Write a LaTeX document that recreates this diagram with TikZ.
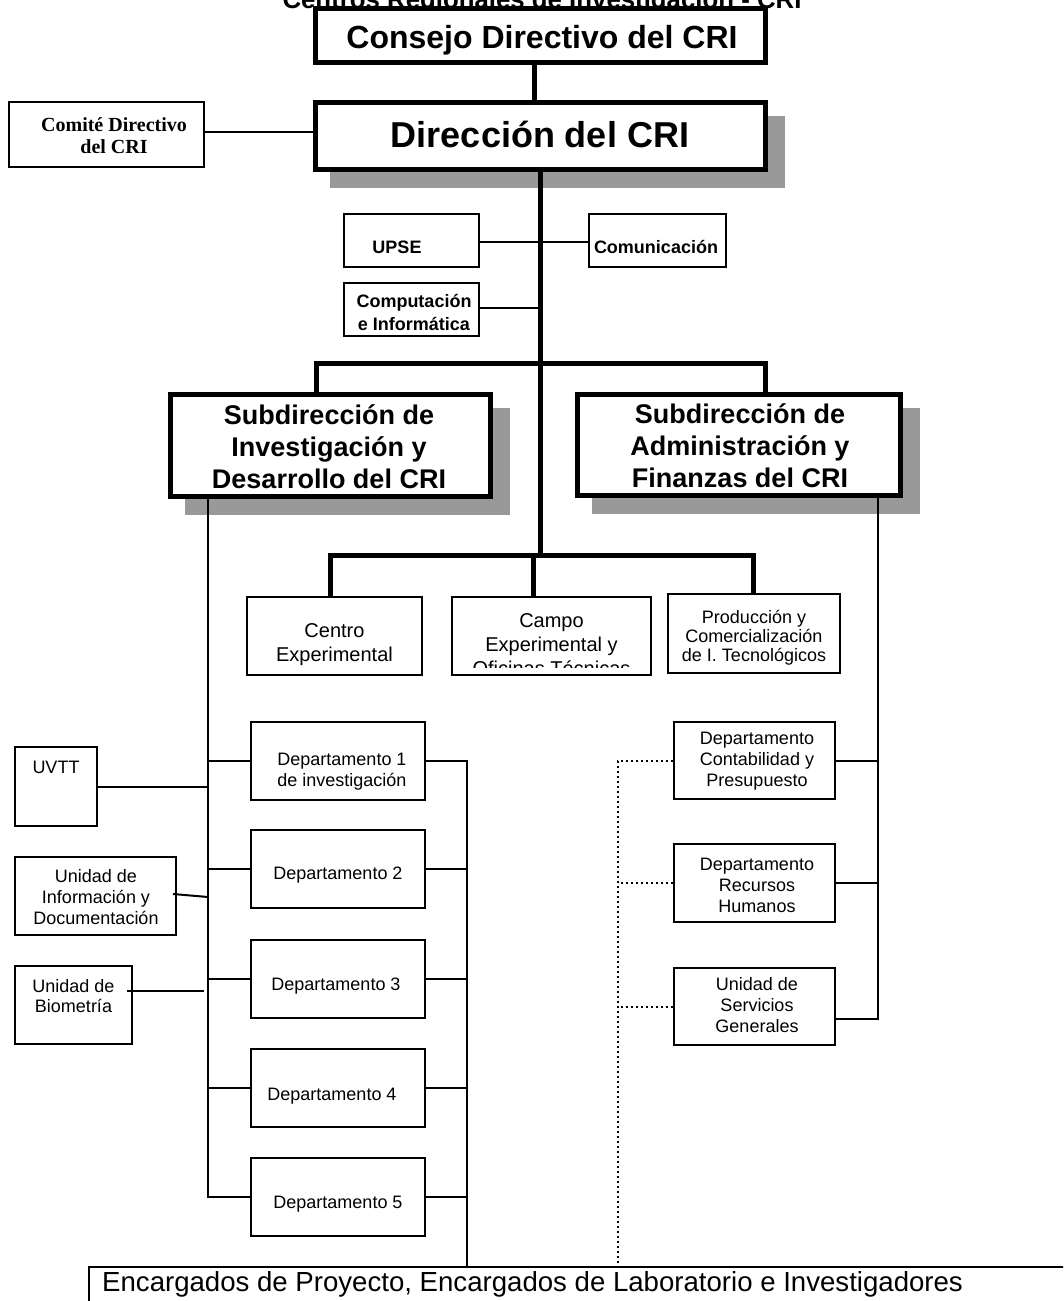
\documentclass[tikz,border=0pt]{standalone}
\usepackage{fontspec}
\setmainfont{Liberation Sans}
\newfontfamily\serifbold{Liberation Serif}
\usetikzlibrary{calc,backgrounds}
\definecolor{shadowgray}{RGB}{153,153,153}
\begin{document}
\begin{tikzpicture}[x=1pt,y=-1pt,line join=miter,
  heavybox/.style={draw,line width=5pt,fill=white,inner sep=0pt},
  lightbox/.style={draw,line width=2pt,fill=white,inner sep=0pt},
  lbl/.style={inner sep=0pt,align=center,anchor=base},
  heavyline/.style={line width=5pt},
  lightline/.style={line width=2pt},
  dotline/.style={line width=2pt,dash pattern=on 2pt off 3pt}]
\useasboundingbox (0,0) rectangle (1063,1301);
\clip (0,0) rectangle (1063,1301);
% (text labels are placed by the baseline of their last line)

% heading, partly above the sheet
\node[lbl,font=\fontsize{25.8}{30}\selectfont\bfseries] (title) at (542,8) {Centros Regionales de Investigación - CRI};

% top management
\node[heavybox,minimum width=450pt,minimum height=54pt] (cons) at (540.5,35.5) {};
\node[lbl,font=\fontsize{32}{38}\selectfont\bfseries] (const) at (542,48) {Consejo Directivo del CRI};
\node[heavybox,minimum width=450pt,minimum height=67pt] (dir) at (540.5,136) {};
\node[lbl,font=\fontsize{36}{43}\selectfont\bfseries] (dirt) at (540,147) {Dirección del CRI};
\node[lightbox,minimum width=195pt,minimum height=65pt] (cte) at (106.5,134.5) {};
\node[lbl,font=\fontsize{20}{22}\selectfont\serifbold\bfseries] (ctet) at (114,153) {Comité Directivo\\del CRI};

% staff units
\node[lightbox,minimum width=135pt,minimum height=53pt] (upse) at (411.5,240.5) {};
\node[lbl,font=\fontsize{18}{22}\selectfont\bfseries] (upset) at (397,253) {UPSE};
\node[lightbox,minimum width=137pt,minimum height=53pt] (com) at (657.5,240.5) {};
\node[lbl,font=\fontsize{18}{22}\selectfont\bfseries] (comt) at (656,253) {Comunicación};
\node[lightbox,minimum width=135pt,minimum height=53pt] (cmp) at (411.5,309.5) {};
\node[lbl,font=\fontsize{18}{23}\selectfont\bfseries] (cmpt) at (414,330) {Computación\\e Informática};

% sub-directorates
\node[heavybox,minimum width=320pt,minimum height=102pt] (sid) at (330.5,445.5) {};
\node[lbl,font=\fontsize{27}{32}\selectfont\bfseries] (sidt) at (329,488) {Subdirección de\\Investigación y\\Desarrollo del CRI};
\node[heavybox,minimum width=323pt,minimum height=101pt] (saf) at (739,445) {};
\node[lbl,font=\fontsize{27}{32}\selectfont\bfseries] (saft) at (740,487) {Subdirección de\\Administración y\\Finanzas del CRI};

% field units
\node[lightbox,minimum width=175pt,minimum height=78pt] (cen) at (334.5,636) {};
\node[lbl,font=\fontsize{20}{24}\selectfont] (cent) at (334.5,661) {Centro\\Experimental};
\node[lightbox,minimum width=199pt,minimum height=78pt] (cam) at (551.5,636) {};
\begin{scope}
  \clip (452,597) rectangle (651,667);
  \node[lbl,font=\fontsize{20}{24}\selectfont] (camt) at (551.5,675) {Campo\\Experimental y\\Oficinas Técnicas};
\end{scope}
\node[lightbox,minimum width=172pt,minimum height=79pt] (pro) at (754,633.5) {};
\node[lbl,font=\fontsize{18}{19}\selectfont] (prot) at (754,661) {Producción y\\Comercialización\\de I. Tecnológicos};

% research departments
\begin{scope}[every node/.append style={font=\fontsize{18}{21}\selectfont}]
  \node[lightbox,minimum width=174pt,minimum height=78pt] (d1) at (338,760.5) {};
  \node[lbl] (d1t) at (342,786) {Departamento 1\\de investigación};
  \node[lightbox,minimum width=174pt,minimum height=78pt] (d2) at (338,869) {};
  \node[lbl] (d2t) at (338,879) {Departamento 2};
  \node[lightbox,minimum width=174pt,minimum height=78pt] (d3) at (338,978.5) {};
  \node[lbl] (d3t) at (336,990) {Departamento 3};
  \node[lightbox,minimum width=174pt,minimum height=78pt] (d4) at (338,1088) {};
  \node[lbl] (d4t) at (332,1100) {Departamento 4};
  \node[lightbox,minimum width=174pt,minimum height=78pt] (d5) at (338,1197) {};
  \node[lbl] (d5t) at (338,1208) {Departamento 5};
\end{scope}

% support units of research
\begin{scope}[every node/.append style={font=\fontsize{18}{21}\selectfont}]
  \node[lightbox,minimum width=82pt,minimum height=79pt] (uv) at (56,786.5) {};
  \node[lbl] (uvt) at (56,773) {UVTT};
  \node[lightbox,minimum width=161pt,minimum height=78pt] (inf) at (95.5,896) {};
  \node[lbl] (inft) at (96,924) {Unidad de\\Información y\\Documentación};
  \node[lightbox,minimum width=117pt,minimum height=78pt] (bio) at (73.5,1005) {};
  \node[lbl,font=\fontsize{18}{20}\selectfont] (biot) at (73.5,1012) {Unidad de\\Biometría};
\end{scope}

% administration departments
\begin{scope}[every node/.append style={font=\fontsize{18}{21}\selectfont}]
  \node[lightbox,minimum width=161pt,minimum height=77pt] (con) at (754.5,760.5) {};
  \node[lbl] (cont) at (757,786) {Departamento\\Contabilidad y\\Presupuesto};
  \node[lightbox,minimum width=161pt,minimum height=78pt] (rec) at (754.5,883) {};
  \node[lbl] (rect) at (757,912) {Departamento\\Recursos\\Humanos};
  \node[lightbox,minimum width=161pt,minimum height=77pt] (ser) at (754.5,1006.5) {};
  \node[lbl] (sert) at (757,1032) {Unidad de\\Servicios\\Generales};
\end{scope}

% staff at the base
\node[draw,line width=2pt,anchor=north west,minimum width=1000pt,minimum height=80pt,inner sep=0pt] (enc) at (88,1266) {};
\node[lbl,anchor=base west,font=\fontsize{27.6}{32}\selectfont] (enct) at (102,1291) {Encargados de Proyecto, Encargados de Laboratorio e Investigadores};

% drop shadows
\begin{scope}[on background layer]
  \fill[white] (0,0) rectangle (1063,1301);
  \foreach \b in {dir,sid,saf}
    \fill[shadowgray] ($(\b.north west)+(17,16)$) rectangle ($(\b.south east)+(17,16)$);
\end{scope}

% main hierarchy
\draw[heavyline] ([xshift=-6.5pt]cons.south) -- ([xshift=-6.5pt]cons.south |- dir.north);
\coordinate (hub) at (540.5,555);
\draw[heavyline] (dir.south) -- (hub);
\coordinate (bl) at (316,363);
\coordinate (br) at (765,363);
\draw[heavyline] (bl |- sid.north) -- (bl) -- (br) -- (br |- saf.north);
\coordinate (cl) at (330,555);
\coordinate (cr) at (753,555);
\coordinate (cm) at (533,555);
\draw[heavyline] (cl |- cen.north) -- (cl) -- (cr) -- (cr |- pro.north);
\draw[heavyline] (cm) -- (cm |- cam.north);

% staff links
\coordinate (ce) at ([yshift=2.5pt]cte.east);
\draw[lightline] (ce) -- (ce -| dir.west);
\draw[lightline] ([yshift=-1.5pt]upse.east) -- ([yshift=-1.5pt]com.west);
\draw[lightline] ([yshift=1.5pt]cmp.east) -- ([yshift=1.5pt]cmp.east -| dir.south);

% research column
\coordinate (lt) at (208,1197);
\draw[lightline] (lt |- sid.south) -- (lt) -- (d5.west);
\foreach \d in {d1,d2,d3,d4} \draw[lightline] (\d.west -| lt) -- (\d.west);
\coordinate (rt) at (467,1266);
\draw[lightline] (d1.east) -- (d1.east -| rt) -- (rt |- enc.north);
\foreach \d in {d2,d3,d4,d5} \draw[lightline] (\d.east) -- (\d.east -| rt);
\draw[lightline] (uv.east) -- (uv.east -| lt);
\draw[lightline] ($(inf.east)+(-4,-2)$) -- ($(inf.east -| lt)+(0,1)$);
\draw[lightline] ($(bio.east)+(-6,-14)$) -- ($(bio.east -| lt)+(-4,-14)$);

% administration column
\coordinate (at) at (878,1019);
\draw[lightline] (at |- saf.south) -- (at) -- (at -| ser.east);
\draw[lightline] (con.east) -- (con.east -| at);
\draw[lightline] (rec.east) -- (rec.east -| at);

% dotted links to the base
\coordinate (dv) at (618,1266);
\draw[dotline] (con.west) -- (con.west -| dv) -- (dv |- enc.north);
\draw[dotline] (rec.west) -- (rec.west -| dv);
\draw[dotline] (ser.west) -- (ser.west -| dv);
\end{tikzpicture}
\end{document}
